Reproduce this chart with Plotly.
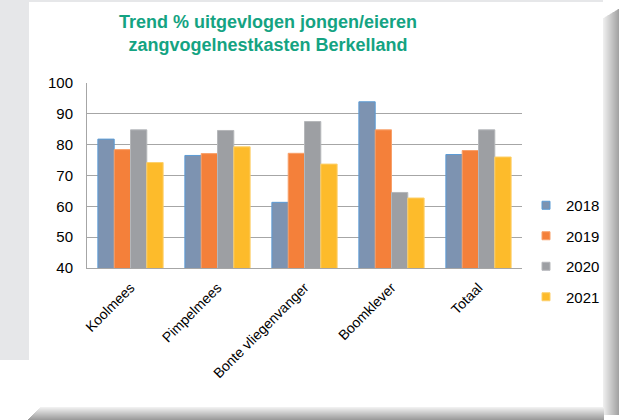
import plotly.graph_objects as go

# Data
soorten = ['Koolmees', 'Pimpelmees', 'Bonte vliegenvanger', 'Boomklever', 'Totaal']
jaren = ['2018', '2019', '2020', '2021']
waarden_2018 = [81.8, 76.5, 61.3, 93.9, 76.8]
waarden_2019 = [78.4, 77.1, 77.2, 84.8, 78.1]
waarden_2020 = [84.8, 84.6, 87.5, 64.5, 84.8]
waarden_2021 = [74.2, 79.3, 73.7, 62.7, 76.0]

series = [waarden_2018, waarden_2019, waarden_2020, waarden_2021]
kleuren = ['#7d93b1', '#f4803a', '#9d9fa3', '#fdbb2b']
randen = ['#5b9bd5', '#f8a06a', '#b5b7ba', '#fdd06b']

W, H = 619, 420
L, R, T, B = 87, 97, 83, 152


def px_x(x):
    return (x - L) / (W - L - R)


def px_y(y):
    return (H - B - y) / (H - T - B)


fig = go.Figure()

for jaar, vals, kleur, rand in zip(jaren, series, kleuren, randen):
    fig.add_trace(go.Bar(x=soorten, y=vals, name=jaar, marker_color=kleur,
                         marker_line=dict(color=rand, width=1),
                         showlegend=False))
    # legend entry with small square marker
    fig.add_trace(go.Scatter(x=[None], y=[None], mode='markers', name=jaar,
                             legendgroup=jaar,
                             marker=dict(symbol='square', size=8, color=kleur,
                                         line=dict(color=rand, width=1))))

# Background: grey strip left, card shadow right and bottom
shapes = [
    dict(type='rect', xref='paper', yref='paper', layer='below',
         x0=px_x(0), x1=px_x(29), y0=px_y(360), y1=px_y(0),
         fillcolor='#e6e7e9', line_width=0),
    dict(type='rect', xref='paper', yref='paper', layer='below',
         x0=px_x(29), x1=px_x(603), y0=px_y(2), y1=px_y(0),
         fillcolor='#e6e7e9', line_width=0),
]
for i in range(16):
    g = int(238 - i * 5)
    col = 'rgb(%d,%d,%d)' % (g, g, g)
    shapes.append(dict(type='rect', xref='paper', yref='paper', layer='below',
                       x0=px_x(603 + i), x1=px_x(604 + i),
                       y0=px_y(415), y1=px_y(18 - i * 0.6),
                       fillcolor=col, line_width=0))
for i in range(13):
    g = int(240 - i * 7)
    col = 'rgb(%d,%d,%d)' % (g, g, g)
    shapes.append(dict(type='rect', xref='paper', yref='paper', layer='below',
                       x0=px_x(40 - i), x1=px_x(604),
                       y0=px_y(408 + i), y1=px_y(407 + i),
                       fillcolor=col, line_width=0))

fig.update_layout(
    width=W, height=H,
    margin=dict(l=L, r=R, t=T, b=B, autoexpand=False),
    paper_bgcolor='white', plot_bgcolor='white',
    font=dict(family='Liberation Sans, Arial, sans-serif', color='#000000'),
    barmode='group', bargap=0.25, bargroupgap=0,
    legend=dict(x=px_x(526), xanchor='left', y=px_y(189), yanchor='top',
                traceorder='grouped', tracegroupgap=8,
                font=dict(size=15), bgcolor='rgba(0,0,0,0)'),
    shapes=shapes,
)
fig.add_annotation(text='Trend % uitgevlogen jongen/eieren<br>zangvogelnestkasten Berkelland',
                   xref='paper', yref='paper', x=px_x(268), xanchor='center',
                   y=px_y(10), yanchor='top', showarrow=False,
                   font=dict(size=18, color='#14a382',
                             family='Liberation Sans, Arial, sans-serif',
                             weight='bold'))
fig.update_yaxes(range=[40, 100], dtick=10, showgrid=True, gridcolor='#a6a6a6',
                 gridwidth=1, showline=True, linecolor='#a6a6a6', ticks='',
                 tickfont=dict(size=15), zeroline=False, automargin=False,
                 ticklabelstandoff=10)
fig.update_xaxes(tickangle=-45, showline=True, linecolor='#a6a6a6',
                 tickfont=dict(size=14), ticks='', automargin=False,
                 ticklabelstandoff=5)

fig.write_html('out.html', config={'displayModeBar': False},
               post_script="document.body.style.margin='0';")
